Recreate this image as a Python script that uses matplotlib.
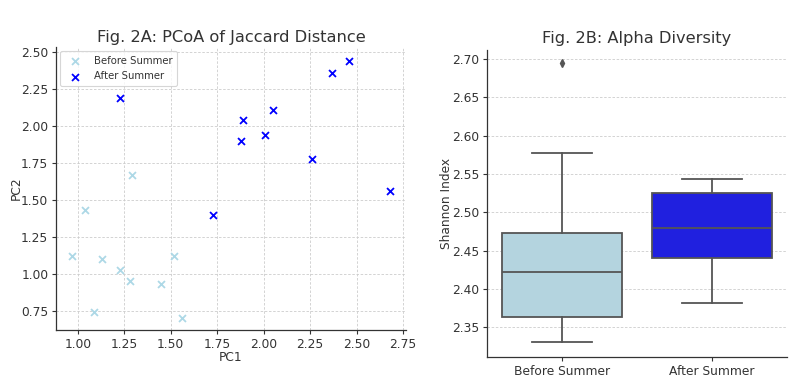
import matplotlib
matplotlib.use("Agg")
import matplotlib.pyplot as plt

# ---- data ----
before_pc1 = [0.97, 1.04, 1.09, 1.13, 1.23, 1.28, 1.29, 1.45, 1.52, 1.56]
before_pc2 = [1.12, 1.43, 0.74, 1.10, 1.03, 0.95, 1.67, 0.93, 1.12, 0.70]
after_pc1 = [1.23, 1.73, 1.88, 1.89, 2.01, 2.05, 2.26, 2.37, 2.46, 2.68]
after_pc2 = [2.19, 1.40, 1.90, 2.04, 1.94, 2.11, 1.78, 2.36, 2.44, 1.56]

groups = ["Before Summer", "After Summer"]
whislo = [2.330, 2.382]
q1 = [2.363, 2.440]
med = [2.422, 2.480]
q3 = [2.473, 2.525]
whishi = [2.578, 2.543]
fliers = [[2.695], []]

xticks_a = [1.00, 1.25, 1.50, 1.75, 2.00, 2.25, 2.50, 2.75]
yticks_a = [0.75, 1.00, 1.25, 1.50, 1.75, 2.00, 2.25, 2.50]
yticks_b = [2.35, 2.40, 2.45, 2.50, 2.55, 2.60, 2.65, 2.70]

plt.rcParams['font.family'] = ['DejaVu Sans']
TXT = '#333333'
FS = 8.8
fig = plt.figure(figsize=(8.07, 3.81), dpi=100)

grid_kw = dict(color='#cccccc', linestyle=(0, (3, 2)), linewidth=0.6)

def style(ax):
    for s in ['top', 'right']:
        ax.spines[s].set_visible(False)
    for s in ['left', 'bottom']:
        ax.spines[s].set_color('#333333')
        ax.spines[s].set_linewidth(0.9)
    ax.tick_params(labelsize=FS, colors=TXT, length=3, width=0.8, pad=2.5)
    ax.set_axisbelow(True)

# ---- Fig 2A ----
ax1 = fig.add_axes([56/807, 1-330/381, 350/807, 283/381])
ax1.scatter(before_pc1, before_pc2, marker='x', color='lightblue', s=25,
            linewidths=1.3, label='Before Summer')
ax1.scatter(after_pc1, after_pc2, marker='x', color='blue', s=25,
            linewidths=1.3, label='After Summer')
ax1.set_xlim(0.883, 2.766)
ax1.set_ylim(0.621, 2.536)
ax1.set_xticks(xticks_a)
ax1.set_yticks(yticks_a)
ax1.set_xticklabels([f"{v:.2f}" for v in xticks_a])
ax1.set_yticklabels([f"{v:.2f}" for v in yticks_a])
ax1.grid(True, **grid_kw)
style(ax1)
ax1.set_xlabel('PC1', fontsize=FS, color=TXT, labelpad=0.5)
ax1.set_ylabel('PC2', fontsize=FS, color=TXT, labelpad=-1)
ax1.set_title('Fig. 2A: PCoA of Jaccard Distance', fontsize=11.7, color=TXT, pad=3.5)
leg = ax1.legend(loc='upper left', fontsize=7.3, frameon=True, borderpad=0.5,
                 handletextpad=0.8, labelspacing=0.5, borderaxespad=0.4)
leg.get_frame().set_edgecolor('#cccccc')
leg.get_frame().set_linewidth(0.8)
for t in leg.get_texts():
    t.set_color(TXT)

# ---- Fig 2B ----
ax2 = fig.add_axes([487/807, 1-357/381, 300/807, 307/381])
stats = []
for i, g in enumerate(groups):
    stats.append(dict(label=g, whislo=whislo[i], q1=q1[i], med=med[i],
                      q3=q3[i], whishi=whishi[i], fliers=fliers[i]))
line_c = '#555555'
bp = ax2.bxp(stats, positions=range(len(groups)), widths=0.8, patch_artist=True,
             boxprops=dict(edgecolor=line_c, linewidth=1.3),
             medianprops=dict(color=line_c, linewidth=1.3),
             whiskerprops=dict(color=line_c, linewidth=1.3),
             capprops=dict(color=line_c, linewidth=1.3),
             flierprops=dict(marker='d', markerfacecolor=line_c,
                             markeredgecolor=line_c, markersize=4))
fills = ['#b4d4df', '#2020df']
for patch, c in zip(bp['boxes'], fills):
    patch.set_facecolor(c)
for cap in bp['caps']:
    x = cap.get_xdata()
    m = (x[0] + x[1]) / 2
    cap.set_xdata([m - 0.2, m + 0.2])
ax2.set_xlim(-0.5, 1.5)
ax2.set_ylim(2.311, 2.712)
ax2.set_yticks(yticks_b)
ax2.set_yticklabels([f"{v:.2f}" for v in yticks_b])
ax2.set_xticks(range(len(groups)))
ax2.set_xticklabels(groups)
ax2.yaxis.grid(True, **grid_kw)
ax2.xaxis.grid(False)
style(ax2)
ax2.set_ylabel('Shannon Index', fontsize=FS, color=TXT, labelpad=-1)
ax2.set_title('Fig. 2B: Alpha Diversity', fontsize=11.7, color=TXT, pad=5)

fig.savefig('out.png', dpi=100)
